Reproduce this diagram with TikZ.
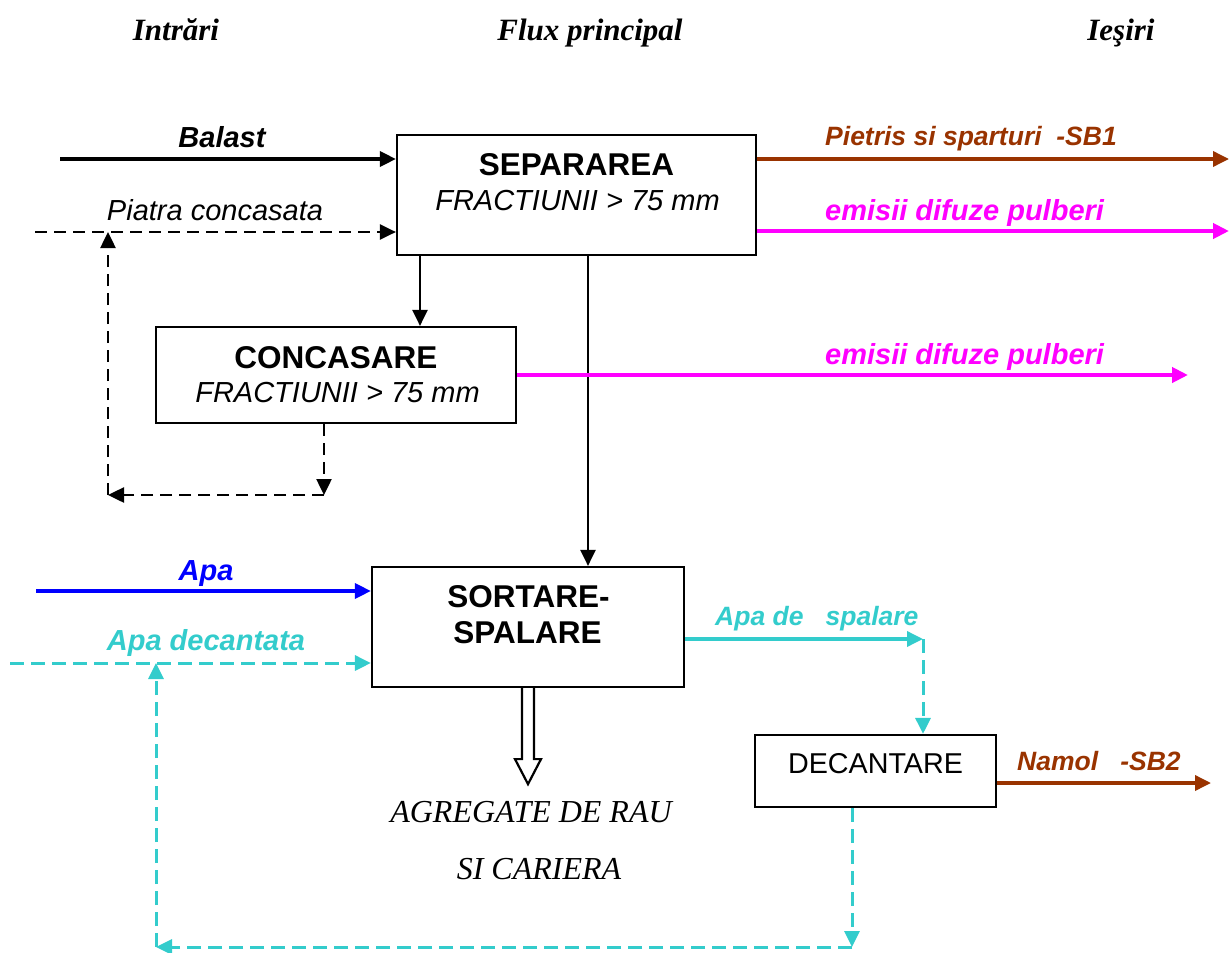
\documentclass[tikz,border=0pt]{standalone}
\usepackage{fontspec}
\setmainfont{Liberation Sans}
\newfontfamily\tnr{Liberation Serif}
\usetikzlibrary{arrows.meta}
\definecolor{brn}{HTML}{993300}
\definecolor{mag}{HTML}{FF00FF}
\definecolor{turq}{HTML}{33CCCC}
\definecolor{blu}{HTML}{0000FF}
\begin{document}
\begin{tikzpicture}[x=1pt,y=-1pt,
  box/.style={draw, line width=2.2pt, inner sep=0pt},
  arr/.style={-{Triangle[length=16pt,width=15pt]}},
  dsh/.style={dash pattern=on 12pt off 7pt},
  cdsh/.style={dash pattern=on 14pt off 7pt},
  lbl/.style={anchor=base, inner sep=0pt},
  lblw/.style={anchor=base west, inner sep=0pt},
  head/.style={lbl, font=\tnr\bfseries\itshape\fontsize{31}{36}\selectfont},
  boxtitle/.style={lbl, font=\bfseries\fontsize{31.5}{36}\selectfont},
  boxsub/.style={lbl, font=\itshape\fontsize{29}{34}\selectfont},
  flowlbl/.style={font=\bfseries\itshape\fontsize{29}{34}\selectfont},
  smalllbl/.style={font=\bfseries\itshape\fontsize{26.5}{31}\selectfont}]
\useasboundingbox (0,0) rectangle (1229,953);

% column headings
\node[head] (hin) at (176,40) {Intrări};
\node[head] (hflux) at (590,40) {Flux principal};
\node[head] (hout) at (1121,40) {Ieşiri};

% process boxes
\node[box, minimum width=359pt, minimum height=120pt] (sep) at (576.5,195) {};
\node[boxtitle] (sept) at (576.5,175) {SEPARAREA};
\node[boxsub] (sepf) at (577.5,210) {FRACTIUNII > 75 mm};

\node[box, minimum width=360pt, minimum height=96pt] (conc) at (336,375) {};
\node[boxtitle] (conct) at (336,368) {CONCASARE};
\node[boxsub] (concf) at (337.5,402) {FRACTIUNII > 75 mm};

\node[box, minimum width=312pt, minimum height=120pt] (sort) at (528,627) {};
\node[boxtitle] (sortt) at (528.5,607) {SORTARE-};
\node[boxtitle] (sorts) at (527.5,643) {SPALARE};

\node[box, minimum width=241pt, minimum height=72pt] (dec) at (875.5,771) {};
\node[lbl, font=\fontsize{28.7}{34}\selectfont] (dect) at (875.5,773) {DECANTARE};

% inputs to separation
\coordinate (bIn) at (60,159);
\draw[arr, line width=3.5pt] (bIn) -- (bIn -| sep.west);
\node[lbl, flowlbl] (lbal) at (222,147) {Balast};

\coordinate (pIn) at (35,232);
\draw[arr, dsh, line width=2.5pt] (pIn) -- (pIn -| sep.west);
\node[lbl, font=\itshape\fontsize{29}{34}\selectfont] (lpia) at (215,220) {Piatra concasata};

% outputs of separation
\coordinate (pOut) at (1229,159);
\draw[arr, brn, line width=3.5pt] (sep.east |- pOut) -- (pOut);
\node[lblw, smalllbl, text=brn] (lpiet) at (825,145) {Pietris si sparturi~ -SB1};

\coordinate (e1) at (1229,231);
\draw[arr, mag, line width=4pt] (sep.east |- e1) -- (e1);
\node[lblw, flowlbl, text=mag] (lem1) at (825,220) {emisii difuze pulberi};

% separation to crushing and to sorting
\coordinate (xa) at (420,300);
\draw[arr, line width=2.2pt] (xa |- sep.south) -- (xa |- conc.north);
\coordinate (xm) at (588,400);
\draw[arr, line width=2.2pt] (xm |- sep.south) -- (xm |- sort.north);

% crushing emissions
\coordinate (e2) at (1188,375);
\draw[arr, mag, line width=4pt] (conc.east |- e2) -- (e2);
\node[lblw, flowlbl, text=mag] (lem2) at (825,364) {emisii difuze pulberi};

% crushed stone return loop
\coordinate (xl) at (324,495);
\coordinate (xr) at (108,495);
\draw[arr, dsh, line width=2.5pt] (xl |- conc.south) -- (xl);
\draw[arr, dsh, line width=2.5pt] (xl) -- (xr);
\draw[arr, dsh, line width=2.5pt] (xr) -- (xr |- pIn);

% water inputs
\coordinate (aIn) at (36,591);
\draw[arr, blu, line width=3.5pt] (aIn) -- (aIn -| sort.west);
\node[lbl, flowlbl, text=blu] (lapa) at (206,580) {Apa};

\coordinate (dIn) at (10,663);
\draw[arr, turq, cdsh, line width=3pt] (dIn) -- (dIn -| sort.west);
\node[lbl, flowlbl, text=turq] (ldec) at (206,650) {Apa decantata};

% washing water to settling
\coordinate (sw) at (923,639);
\draw[arr, turq, line width=3.5pt] (sort.east |- sw) -- (sw);
\node[lblw, smalllbl, text=turq] (lsp) at (715,625) {Apa de~~ spalare};
\draw[arr, turq, cdsh, line width=3pt] (sw) -- (sw |- dec.north);

% sludge output
\coordinate (nm) at (1211,783);
\draw[arr, brn, line width=3.5pt] (dec.east |- nm) -- (nm);
\node[lblw, smalllbl, text=brn] (lnam) at (1017,770) {Namol~~ -SB2};

% settled water return loop
\coordinate (rb) at (852,947);
\coordinate (lb) at (156,947);
\draw[arr, turq, cdsh, line width=3pt] (rb |- dec.south) -- (rb);
\draw[arr, turq, cdsh, line width=3pt] (rb) -- (lb);
\draw[arr, turq, cdsh, line width=3pt] (lb) -- (lb |- dIn);

% product: hollow arrow
\draw[line width=2.2pt, line join=miter]
  ([xshift=-6pt]sort.south) -- ++(0,71) -- ++(-7,0) -- ++(13,25)
  -- ++(13,-25) -- ++(-7,0) -- ([xshift=6pt]sort.south);
\node[lbl, font=\tnr\itshape\fontsize{32}{36}\selectfont] (ag1) at (531,822) {AGREGATE DE RAU};
\node[lbl, font=\tnr\itshape\fontsize{32}{36}\selectfont] (ag2) at (539,879) {SI CARIERA};
\end{tikzpicture}
\end{document}
